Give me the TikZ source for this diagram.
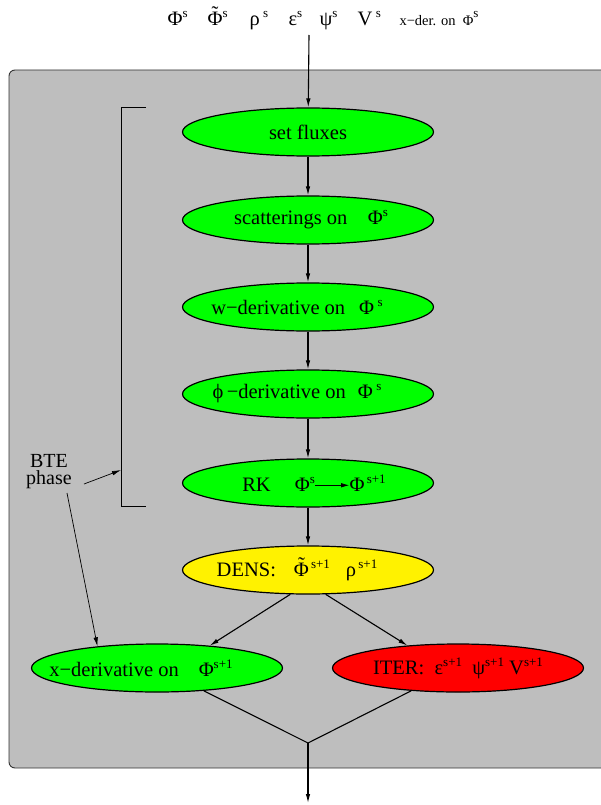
\documentclass[tikz,border=0pt]{standalone}
\usepackage{fontspec}
\setmainfont{Liberation Serif}
\usetikzlibrary{shapes.geometric,arrows.meta,calc}

\definecolor{boxgray}{RGB}{190,190,190}
% raised index in the style of the figure
\newcommand{\upi}[1]{\raisebox{8pt}{\fontsize{13}{13}\selectfont #1}}
\newcommand{\tPhi}{\ooalign{Φ\cr\hidewidth\raisebox{5pt}{˜}\hidewidth\cr}}
\newcommand{\rkarrow}{\tikz[baseline=-6pt]\draw[-{Latex[length=8pt,width=4.5pt]}, line width=0.8pt] (0pt,0pt) -- (34pt,0pt);}
% keep the ellipses at one size, whatever the text
\newcommand{\ctr}[1]{\makebox[0pt]{#1}}

\begin{document}
\begin{tikzpicture}[x=1pt, y=-1pt,
    every node/.style={font=\fontsize{20.5}{22}\selectfont},
    stage/.style={ellipse, draw, line width=1.2pt, minimum width=251pt, minimum height=48pt, inner sep=0pt, fill=green},
    arr/.style={-{Latex[length=9pt,width=4.5pt]}, line width=1.1pt},
    thinarr/.style={-{Latex[length=9pt,width=4.5pt]}, line width=0.7pt}]
  \useasboundingbox (0,0) rectangle (600,805);
  % background box of the loop
  \draw[fill=boxgray, draw=black!80, line width=0.9pt, rounded corners=6pt] (9,70) rectangle (620,768);

  % quantities coming in
  \node[anchor=base west] (phiS)  at (164,26) {Φ\upi{s}};
  \node[anchor=base west] (tphiS) at (204,26) {\tPhi\upi{s}};
  \node[anchor=base west] (rhoS)  at (246,26) {ρ\,\upi{s}};
  \node[anchor=base west] (epsS)  at (285,26) {ε\upi{s}};
  \node[anchor=base west] (psiS)  at (316,26) {ψ\upi{s}};
  \node[anchor=base west] (vS)    at (354,26) {V\,\upi{s}};
  \node[anchor=base west, font=\fontsize{14.5}{16}\selectfont] (xderS) at (396,26) {x−der. on\enspace Φ\upi{s}};
  \coordinate (in) at (309,35);

  % BTE phase
  \node[stage] (fluxes) at (308,132) {\ctr{set fluxes}};
  \node[stage] (scatt)  at (308,220) {\ctr{\hspace*{6pt}scatterings on\quad Φ\upi{s}}};
  \node[stage] (wder)   at (308,307) {\ctr{w−derivative on\hspace{14pt}Φ\,\upi{s}\hspace*{22pt}}};
  \node[stage] (phider) at (308,394) {\ctr{ϕ\,−derivative on\hspace{12pt}Φ\,\upi{s}\hspace*{22pt}}};
  \node[stage] (rk)     at (308,483) {\ctr{\hspace*{12pt}RK\hspace{24pt}Φ\upi{s}\rkarrow Φ\upi{\,s+1}}};
  \node[stage, fill=yellow] (dens) at (308,570) {\ctr{DENS:\hspace{18pt}\tPhi\upi{\,s+1}\hspace{16pt}ρ\upi{\,s+1}\hspace*{22pt}}};
  \node[stage] (xder)   at (157,668) {\ctr{x−derivative on\hspace{20pt}Φ\upi{s+1}\hspace*{32pt}}};
  \node[stage, fill=red] (iter) at (458,668) {\ctr{ITER:\enspace ε\upi{s+1}\enspace ψ\upi{s+1} V\upi{s+1}}};
  \coordinate (merge) at (308,743);
  \coordinate (out) at (308,803);

  \draw[arr] (in) -- (fluxes);
  \draw[arr] (fluxes) -- (scatt);
  \draw[arr] (scatt) -- (wder);
  \draw[arr] (wder) -- (phider);
  \draw[arr] (phider) -- (rk);
  \draw[arr] (rk) -- (dens);
  \draw[arr] (dens.234) -- (xder.23);
  \draw[arr] (dens.306) -- (iter.156);
  \draw[line width=1.1pt] (xder.334) -- (merge) -- (iter.206);
  \draw[arr] (merge) -- (out);

  % bracket and label
  \draw[line width=0.9pt] (146,107) -| (121,506) -- (146,506);
  \coordinate (brk) at (121,470);
  \node[align=center, font=\fontsize{20}{17}\selectfont] (bte) at (49,472) {BTE\\phase};
  \draw[thinarr] (84,484) -- (brk);
  \draw[thinarr] (67,493) -- (xder.160);
\end{tikzpicture}
\end{document}
